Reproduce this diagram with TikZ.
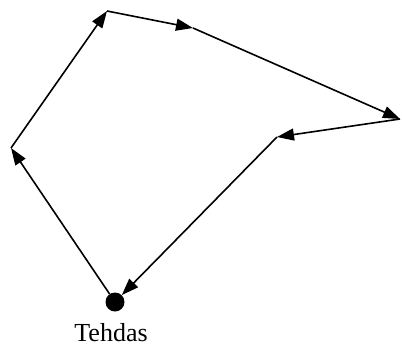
\documentclass[tikz,border=0pt]{standalone}
\usepackage{fontspec}
\setmainfont{Liberation Serif}
\usetikzlibrary{arrows.meta}
\begin{document}
\begin{tikzpicture}[x=1pt,y=-1pt,
  route/.style={line width=1.6pt,-{Triangle[length=17pt,width=12pt]}},
  factory/.style={circle,fill=black,minimum size=19pt,inner sep=0pt}]
\useasboundingbox (0,0) rectangle (402,349);
\node[factory] (f) at (115,302) {};
\coordinate (p1) at (11,148);
\coordinate (p2) at (107,11);
\coordinate (p3) at (193,28);
\coordinate (p4) at (400,119);
\coordinate (p5) at (277,137);
\node[font=\fontsize{26}{29}\selectfont,anchor=base] (lbl) at (111,341) {Tehdas};
\draw[route] (f) -- (p1);
\draw[route] (p1) -- (p2);
\draw[route] (p2) -- (p3);
\draw[route] (p3) -- (p4);
\draw[route] (p4) -- (p5);
\draw[route] (p5) -- (f);
\end{tikzpicture}
\end{document}
